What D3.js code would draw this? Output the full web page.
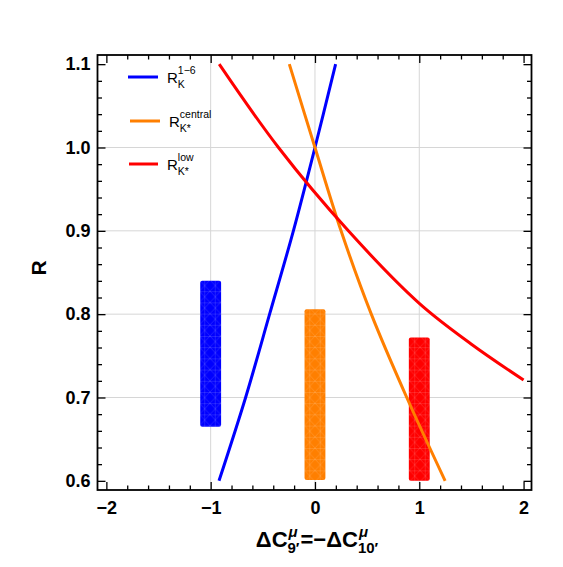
<!DOCTYPE html>
<html>
<head>
<meta charset="utf-8">
<script src="https://cdn.jsdelivr.net/npm/d3@7"></script>
<style>
  html, body { margin: 0; padding: 0; background: #fff; }
  svg { display: block; font-family: "Liberation Sans", Arial, sans-serif; }
</style>
</head>
<body>
<svg id="chart" width="563" height="567"></svg>
<script>
// ---------------- data ----------------
const xTickValues = [-2, -1, 0, 1, 2];
const yTickValues = [0.6, 0.7, 0.8, 0.9, 1.0, 1.1];
const xGridValues = [-1, 0, 1];
const yGridValues = [0.7, 0.8, 0.9, 1.0];

const seriesNames = ["R_K^{1-6}", "R_K*^{central}", "R_K*^{low}"];
const seriesColors = ["#0000ff", "#ff7f00", "#ff0000"];

// experimental bands (center x, low R, high R)
const barX = [-1, 0, 1];
const barLow = [0.665, 0.601, 0.600];
const barHigh = [0.840, 0.806, 0.772];

// theory curves
const blueX = [-0.92, -0.665, -0.435, -0.207, 0.0, 0.198];
const blueY = [0.600, 0.700, 0.800, 0.900, 1.000, 1.100];
const orangeX = [-0.246, 0.0, 0.25, 0.54, 0.88, 1.248];
const orangeY = [1.100, 1.000, 0.900, 0.800, 0.700, 0.600];
const redX = [-0.918, -0.35, 0.32, 1.0, 1.5, 2.0];
const redY = [1.100, 1.000, 0.900, 0.813, 0.764, 0.721];

// ---------------- layout ----------------
const svg = d3.select("#chart");
const pL = 97.5, pR = 531.5, pT = 55, pB = 490;
const x = d3.scaleLinear().domain([-2.085, 2.076]).range([pL, pR]);
const y = d3.scaleLinear().domain([0.589, 1.111]).range([pB, pT]);

// grid
const grid = svg.append("g");
grid.selectAll(".gx").data(xGridValues).join("line")
  .attr("x1", d => x(d)).attr("x2", d => x(d)).attr("y1", pT).attr("y2", pB)
  .attr("stroke", "#d6d6d6").attr("stroke-width", 1);
grid.selectAll(".gy").data(yGridValues).join("line")
  .attr("y1", d => y(d)).attr("y2", d => y(d)).attr("x1", pL).attr("x2", pR)
  .attr("stroke", "#d6d6d6").attr("stroke-width", 1);

// mesh pattern for bands
const defs = svg.append("defs");
const pat = defs.append("pattern").attr("id", "mesh")
  .attr("patternUnits", "userSpaceOnUse").attr("width", 10.5).attr("height", 11.2);
pat.append("path").attr("d", "M0,0 L10.5,11.2 M10.5,0 L0,11.2 M0,0.5 H10.5 M5.25,0 V11.2")
  .attr("stroke", "rgba(255,255,255,0.18)").attr("stroke-width", 0.7).attr("fill", "none");

// bands
const bands = svg.append("g");
barX.forEach((cx, i) => {
  const x0 = x(cx - 0.1), x1 = x(cx + 0.1);
  bands.append("rect")
    .attr("x", x0).attr("y", y(barHigh[i]))
    .attr("width", x1 - x0).attr("height", y(barLow[i]) - y(barHigh[i]))
    .attr("rx", 2).attr("fill", seriesColors[i]);
  bands.append("rect")
    .attr("x", x0).attr("y", y(barHigh[i]))
    .attr("width", x1 - x0).attr("height", y(barLow[i]) - y(barHigh[i]))
    .attr("rx", 2).attr("fill", "url(#mesh)");
});

// curves
const line = d3.line().x(d => x(d[0])).y(d => y(d[1])).curve(d3.curveCatmullRom.alpha(0.5));
const curves = [
  [d3.zip(blueX, blueY), seriesColors[0]],
  [d3.zip(orangeX, orangeY), seriesColors[1]],
  [d3.zip(redX, redY), seriesColors[2]]
];
curves.forEach(([pts, col]) => {
  svg.append("path").datum(pts).attr("d", line)
    .attr("fill", "none").attr("stroke", col).attr("stroke-width", 3);
});

// ---------------- axes / frame ----------------
const xMinor = d3.range(-20, 21, 2).filter(v => v % 10 !== 0).map(v => v / 10);
const yMinor = d3.range(30, 56, 1).filter(v => v % 5 !== 0).map(v => v / 50);
const fmtX = d => d < 0 ? "\u2212" + Math.abs(d) : String(d);
const fmtY = d3.format(".1f");

function styleAxis(g) {
  g.select(".domain").remove();
  g.selectAll(".tick line").attr("stroke", "#000").attr("stroke-width", 1.3);
  g.selectAll("text").attr("font-size", 18).attr("font-weight", "bold").attr("fill", "#000")
    .attr("font-family", "'Liberation Sans', Arial, sans-serif");
}

// bottom
svg.append("g").attr("transform", `translate(0,${pB})`)
  .call(d3.axisBottom(x).tickValues(xTickValues).tickSize(-8).tickPadding(11).tickFormat(fmtX)).call(styleAxis);
svg.append("g").attr("transform", `translate(0,${pB})`)
  .call(d3.axisBottom(x).tickValues(xMinor).tickSize(-4.5).tickFormat("")).call(styleAxis);
// top
svg.append("g").attr("transform", `translate(0,${pT})`)
  .call(d3.axisTop(x).tickValues(xTickValues).tickSize(-8).tickFormat("")).call(styleAxis);
svg.append("g").attr("transform", `translate(0,${pT})`)
  .call(d3.axisTop(x).tickValues(xMinor).tickSize(-4.5).tickFormat("")).call(styleAxis);
// left
svg.append("g").attr("transform", `translate(${pL},0)`)
  .call(d3.axisLeft(y).tickValues(yTickValues).tickSize(-8).tickPadding(7).tickFormat(fmtY)).call(styleAxis);
svg.append("g").attr("transform", `translate(${pL},0)`)
  .call(d3.axisLeft(y).tickValues(yMinor).tickSize(-4.5).tickFormat("")).call(styleAxis);
// right
svg.append("g").attr("transform", `translate(${pR},0)`)
  .call(d3.axisRight(y).tickValues(yTickValues).tickSize(-8).tickFormat("")).call(styleAxis);
svg.append("g").attr("transform", `translate(${pR},0)`)
  .call(d3.axisRight(y).tickValues(yMinor).tickSize(-4.5).tickFormat("")).call(styleAxis);

svg.append("rect").attr("x", pL).attr("y", pT).attr("width", pR - pL).attr("height", pB - pT)
  .attr("fill", "none").attr("stroke", "#000").attr("stroke-width", 1.8);

// ---------------- text helpers ----------------
function scriptText(g, x0, y0, base, sup, sub, opt) {
  const t = g.append("text").attr("x", x0).attr("y", y0).attr("font-size", opt.base)
    .attr("font-weight", opt.bold ? "bold" : "normal").text(base);
  const w = t.node().getComputedTextLength();
  let sw = 0, bw = 0;
  if (sup) {
    const s = g.append("text").attr("x", x0 + w + (opt.supDx || 0)).attr("y", y0 - opt.supUp)
      .attr("font-size", opt.small).attr("font-weight", opt.bold ? "bold" : "normal")
      .attr("font-style", opt.supItalic ? "italic" : "normal").text(sup);
    sw = s.node().getComputedTextLength() + (opt.supDx || 0);
  }
  if (sub) {
    const s = g.append("text").attr("x", x0 + w).attr("y", y0 + opt.subDown)
      .attr("font-size", opt.small).attr("font-weight", opt.bold ? "bold" : "normal").text(sub);
    bw = s.node().getComputedTextLength();
  }
  return x0 + w + Math.max(sw, bw);
}

// y axis title
svg.append("text").attr("transform", "translate(46,268) rotate(-90)")
  .attr("text-anchor", "middle").attr("font-size", 21).attr("font-weight", "bold").text("R");

// x axis title
const xl = svg.append("g");
const optX = { base: 22, small: 15, bold: true, supUp: 10, subDown: 6, supItalic: true, supDx: 1 };
let cxp = 248;
cxp = scriptText(xl, cxp, 547, "\u0394C", "\u03bc", "9\u2032", optX);
cxp = scriptText(xl, cxp + 1, 547, "=\u2212\u0394C", "\u03bc", "10\u2032", optX);
const xlW = cxp - 248;
xl.attr("transform", `translate(${317 - (248 + xlW / 2)},0)`);

// legend
const legendY = [77, 121, 164];
const legendSup = ["1\u22126", "central", "low"];
const legendSub = ["K", "K*", "K*"];
const legendLineX = [[128, 158], [130, 160], [129, 158]];
const legendTextX = [167, 169, 167];
const lg = svg.append("g").attr("fill", "#000");
seriesNames.forEach((name, i) => {
  lg.append("line").attr("x1", legendLineX[i][0]).attr("x2", legendLineX[i][1])
    .attr("y1", legendY[i]).attr("y2", legendY[i])
    .attr("stroke", seriesColors[i]).attr("stroke-width", 3);
  scriptText(lg, legendTextX[i], legendY[i] + 6, "R", legendSup[i], legendSub[i],
    { base: 15, small: 10.5, bold: false, supUp: 9, subDown: 5 });
});
</script>
</body>
</html>
